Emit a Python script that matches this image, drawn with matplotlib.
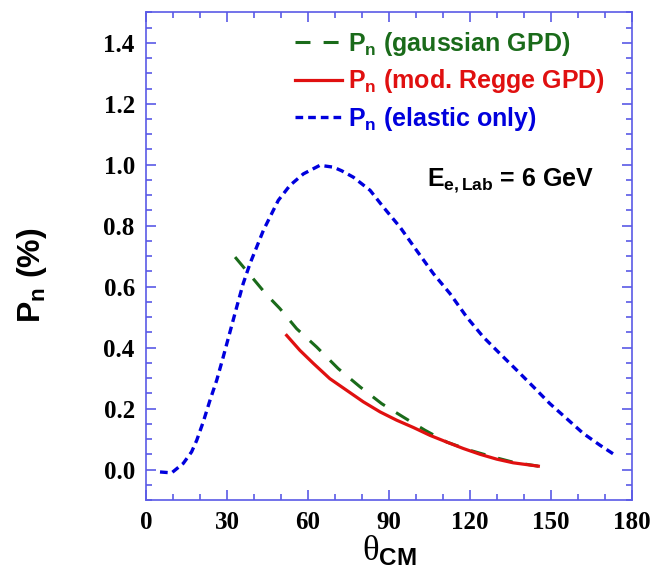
import matplotlib
matplotlib.use("Agg")
import matplotlib.pyplot as plt
from matplotlib.ticker import MultipleLocator, FixedLocator

# ---- data ----
elastic_x = [5.2, 9.5, 13.8, 16.9, 18.8, 21.2, 23.7, 26.2, 28.6, 31.1, 33.6, 36.0, 38.5, 41.0,
             43.5, 45.9, 49.0, 53.3, 58.3, 64.4, 69.4, 72.5, 76.8, 83.0, 87.9, 94.1, 100.2,
             106.4, 112.6, 118.8, 124.9, 131.1, 137.3, 143.5, 149.6, 155.8, 162.0, 168.1, 174.3]
elastic_y = [-0.008, -0.011, 0.020, 0.058, 0.096, 0.156, 0.227, 0.293, 0.369, 0.451, 0.533,
             0.610, 0.675, 0.730, 0.785, 0.828, 0.883, 0.932, 0.970, 0.998, 0.992, 0.980,
             0.959, 0.916, 0.861, 0.795, 0.719, 0.643, 0.577, 0.500, 0.435, 0.380, 0.326,
             0.271, 0.216, 0.167, 0.118, 0.080, 0.044]

gauss_x = [33.0, 39.7, 44.5, 49.6, 55.8, 63.2, 71.2, 79.3, 87.3, 95.3, 103.3, 111.4, 120.0,
           128.6, 136.0, 145.3]
gauss_y = [0.697, 0.626, 0.575, 0.528, 0.462, 0.402, 0.331, 0.271, 0.216, 0.172, 0.129,
           0.090, 0.063, 0.041, 0.024, 0.011]

regge_x = [52.1, 57.0, 62.0, 68.1, 74.3, 80.5, 86.7, 92.8, 99.0, 105.2, 111.4, 117.5, 123.7,
           129.9, 136.0, 145.3]
regge_y = [0.440, 0.391, 0.348, 0.298, 0.260, 0.222, 0.189, 0.162, 0.138, 0.112, 0.090,
           0.069, 0.050, 0.034, 0.022, 0.011]

xticks = [0, 30, 60, 90, 120, 150, 180]
yticks = [0.0, 0.2, 0.4, 0.6, 0.8, 1.0, 1.2, 1.4]

plt.rcParams['mathtext.fontset'] = 'custom'
plt.rcParams['mathtext.bf'] = 'Liberation Sans:bold'
plt.rcParams['mathtext.rm'] = 'Liberation Sans:bold'
plt.rcParams['mathtext.it'] = 'Liberation Serif'

GREEN = '#1a6b1a'
RED = '#e01010'
BLUE = '#0000dd'
AXC = '#5a5ae6'

fig = plt.figure(figsize=(6.54, 5.73), dpi=100)
ax = fig.add_axes([0.2232, 0.1274, 0.9664 - 0.2232, 0.9785 - 0.1274])

l1, = ax.plot(gauss_x, gauss_y, color=GREEN, lw=2.2, dashes=(4.9, 4.3))
l2, = ax.plot(regge_x, regge_y, color=RED, lw=2.3)
l3, = ax.plot(elastic_x, elastic_y, color=BLUE, lw=2.4, dashes=(2.3, 1.5))

ax.set_xlim(0, 180)
ax.set_ylim(-0.1, 1.5)
ax.xaxis.set_major_locator(FixedLocator(xticks))
ax.yaxis.set_major_locator(FixedLocator(yticks))
ax.xaxis.set_minor_locator(MultipleLocator(10))
ax.yaxis.set_minor_locator(MultipleLocator(0.05))
ax.set_xticklabels([str(v) for v in xticks])
ax.set_yticklabels([f"{v:.1f}" for v in yticks])
for s in ax.spines.values():
    s.set_color(AXC)
    s.set_linewidth(1.2)
ax.tick_params(which='both', direction='in', top=True, right=True, color=AXC, width=1.2)
ax.tick_params(which='major', length=7, pad=8)
ax.tick_params(which='minor', length=4)
for lab in ax.get_xticklabels() + ax.get_yticklabels():
    lab.set_fontfamily('Liberation Serif')
    lab.set_fontweight('bold')
    lab.set_fontsize(18)

leg = ax.legend([l1, l2, l3],
                [r'$\mathbf{P_n}$ (gaussian GPD)', r'$\mathbf{P_n}$ (mod. Regge GPD)', r'$\mathbf{P_n}$ (elastic only)'],
                loc='upper left', bbox_to_anchor=(0.27, 1.0), frameon=False,
                handlelength=1.9, handletextpad=0.25, labelspacing=0.38,
                prop={'family': 'Liberation Sans', 'weight': 'bold', 'size': 18},
                labelcolor='linecolor', borderaxespad=0.3)

ax.text(0.578, 0.655, r'$\mathbf{E_{e,Lab}}$ = 6 GeV', transform=ax.transAxes,
        fontsize=18, fontfamily='Liberation Sans', fontweight='bold', color='black',
        ha='left', va='center')

ax.set_ylabel(r'$\mathbf{P_n}$ (%)', fontsize=23, fontfamily='Liberation Sans', fontweight='bold')
ax.yaxis.set_label_coords(-0.20, 0.46)
ax.set_xlabel(r'$\theta_{\mathbf{CM}}$', fontsize=25, labelpad=0)

fig.savefig('out.png', dpi=100)
